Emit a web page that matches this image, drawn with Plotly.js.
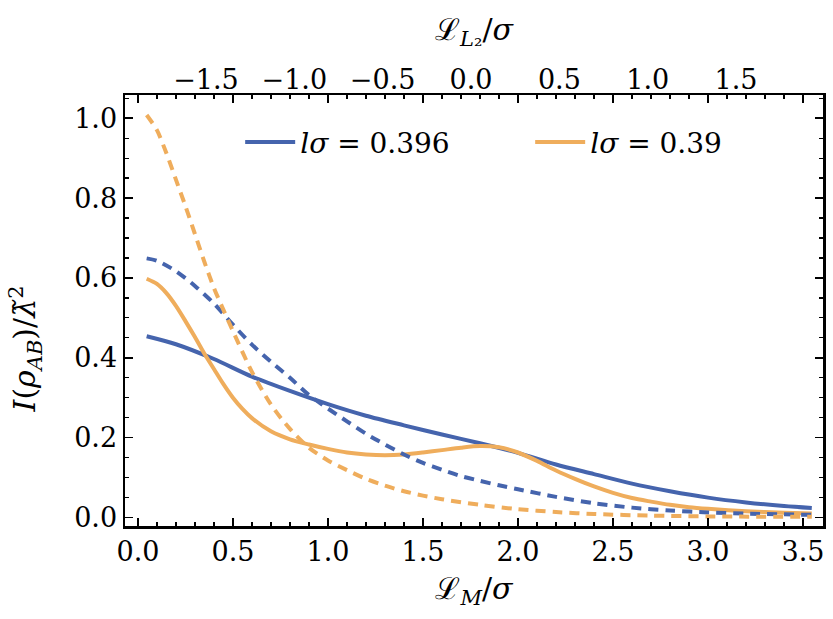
<!DOCTYPE html>
<html>
<head>
<meta charset="utf-8">
<script src="https://cdn.plot.ly/plotly-3.0.1.min.js"></script>
<style>
  html, body { margin: 0; padding: 0; background: #fff; }
  #graph { width: 833px; height: 619px; }
</style>
</head>
<body>
<div id="graph"></div>
<script>
// values
var blueSolidX = [0.046, 0.2, 0.4, 0.6, 0.8, 1.0, 1.2, 1.4, 1.6, 1.8, 2.0, 2.2, 2.4, 2.6, 2.8, 3.0, 3.2, 3.4, 3.546]
var blueSolidY = [0.454, 0.434, 0.397, 0.353, 0.317, 0.284, 0.255, 0.231, 0.208, 0.186, 0.162, 0.133, 0.109, 0.085, 0.066, 0.05, 0.038, 0.029, 0.024]

var orangeSolidX = [0.046, 0.1, 0.15, 0.2, 0.25, 0.3, 0.35, 0.4, 0.45, 0.5, 0.55, 0.6, 0.7, 0.8, 0.9, 1.0, 1.1, 1.2, 1.3, 1.4, 1.5, 1.6, 1.7, 1.8, 1.9, 2.0, 2.1, 2.2, 2.3, 2.4, 2.5, 2.6, 2.7, 2.8, 2.9, 3.0, 3.2, 3.4, 3.546]
var orangeSolidY = [0.598, 0.585, 0.562, 0.53, 0.492, 0.452, 0.41, 0.372, 0.334, 0.3, 0.272, 0.249, 0.216, 0.196, 0.183, 0.172, 0.163, 0.158, 0.156, 0.158, 0.163, 0.169, 0.175, 0.179, 0.176, 0.163, 0.142, 0.118, 0.097, 0.078, 0.062, 0.049, 0.04, 0.032, 0.026, 0.022, 0.016, 0.012, 0.01]

var blueDashX = [0.046, 0.1, 0.2, 0.3, 0.4, 0.5, 0.6, 0.7, 0.8, 0.9, 1.0, 1.1, 1.2, 1.3, 1.4, 1.5, 1.6, 1.7, 1.8, 1.9, 2.0, 2.2, 2.4, 2.6, 2.8, 3.0, 3.2, 3.546]
var blueDashY = [0.649, 0.643, 0.617, 0.58, 0.536, 0.483, 0.433, 0.39, 0.35, 0.307, 0.273, 0.241, 0.21, 0.183, 0.158, 0.137, 0.12, 0.104, 0.092, 0.081, 0.071, 0.052, 0.036, 0.025, 0.018, 0.013, 0.01, 0.007]

var orangeDashX = [0.046, 0.1, 0.15, 0.2, 0.25, 0.3, 0.35, 0.4, 0.45, 0.5, 0.6, 0.7, 0.8, 0.9, 1.0, 1.1, 1.2, 1.3, 1.4, 1.5, 1.6, 1.8, 2.0, 2.2, 2.4, 2.7, 3.0, 3.546]
var orangeDashY = [1.008, 0.97, 0.912, 0.846, 0.78, 0.71, 0.64, 0.575, 0.52, 0.467, 0.365, 0.283, 0.222, 0.175, 0.143, 0.119, 0.097, 0.08, 0.066, 0.055, 0.046, 0.032, 0.021, 0.014, 0.009, 0.005, 0.003, 0.002]

var bottomTicks = [0, 0.5, 1, 1.5, 2, 2.5, 3, 3.5]
var topTicks = [-1.5, -1, -0.5, 0, 0.5, 1, 1.5]
var leftTicks = [0, 0.2, 0.4, 0.6, 0.8, 1]
var legendNames = ['<i>lσ</i> = 0.396', '<i>lσ</i> = 0.39']

var blue = '#4564ad'
var orange = '#efad5c'
var serif = 'DejaVu Serif'

var curve = { width: 4, shape: 'spline', smoothing: 0.8 }

var traces = [
  {
    x: blueSolidX, y: blueSolidY, name: legendNames[0], mode: 'lines',
    line: Object.assign({ color: blue }, curve)
  },
  {
    x: orangeSolidX, y: orangeSolidY, name: legendNames[1], mode: 'lines',
    line: Object.assign({ color: orange }, curve)
  },
  {
    x: blueDashX, y: blueDashY, mode: 'lines', showlegend: false,
    line: Object.assign({ color: blue, dash: '10px,7px' }, curve)
  },
  {
    x: orangeDashX, y: orangeDashY, mode: 'lines', showlegend: false,
    line: Object.assign({ color: orange, dash: '10px,7px' }, curve)
  },
  {
    // carries the top axis
    x: topTicks, y: topTicks.map(function () { return null }), xaxis: 'x2', mode: 'lines',
    showlegend: false, hoverinfo: 'skip'
  }
]

var layout = {
  width: 833,
  height: 619,
  margin: { l: 125, r: 10, t: 95, b: 93 },
  paper_bgcolor: '#fff',
  plot_bgcolor: '#fff',
  font: { family: serif, size: 27, color: '#000' },
  showlegend: true,
  legend: {
    orientation: 'h', x: 0.165, y: 0.89, xanchor: 'left', yanchor: 'middle',
    font: { family: serif, size: 28 }, bgcolor: 'rgba(0,0,0,0)', entrywidth: 225, itemwidth: 50
  },
  xaxis: {
    range: [-0.068, 3.605],
    tickvals: bottomTicks, tickformat: '.1f',
    ticks: 'inside', ticklen: 8, tickwidth: 1.5, tickcolor: '#000',
    minor: { ticks: 'inside', ticklen: 4, tickwidth: 1.2, dtick: 0.1, tickcolor: '#000', showgrid: false },
    showline: true, linewidth: 2.5, linecolor: '#000', mirror: 'ticks',
    showgrid: false, zeroline: false,
    tickfont: { family: serif, size: 27 },
    title: { text: 'ℒ<sub><i>M</i></sub>/<i>σ</i>', font: { family: serif, size: 30 }, standoff: 12 }
  },
  xaxis2: {
    overlaying: 'x', side: 'top', anchor: 'y',
    range: [-1.958, 1.992],
    tickvals: topTicks, tickformat: '.1f', ticks: '',
    showline: false, showgrid: false, zeroline: false,
    tickfont: { family: serif, size: 27 },
    title: { text: 'ℒ<sub><i>L</i>₂</sub>/<i>σ</i>', font: { family: serif, size: 30 }, standoff: 14 }
  },
  yaxis: {
    range: [-0.021, 1.058],
    tickvals: leftTicks, tickformat: '.1f',
    ticks: 'inside', ticklen: 8, tickwidth: 1.5, tickcolor: '#000',
    minor: { ticks: 'inside', ticklen: 4, tickwidth: 1.2, dtick: 0.05, tickcolor: '#000', showgrid: false },
    showline: true, linewidth: 2.5, linecolor: '#000', mirror: 'ticks',
    showgrid: false, zeroline: false,
    tickfont: { family: serif, size: 27 }
  },
  annotations: [
    {
      text: '<i>I</i>(<i>ρ</i><sub><i>AB</i></sub>)/<i>λ̃</i><sup>2</sup>',
      xref: 'paper', yref: 'paper', x: -0.143, y: 0.41, xanchor: 'center', yanchor: 'middle',
      textangle: -90, showarrow: false, font: { family: serif, size: 30 }
    }
  ]
}

Plotly.newPlot('graph', traces, layout, { displayModeBar: false, staticPlot: true })
</script>
</body>
</html>
